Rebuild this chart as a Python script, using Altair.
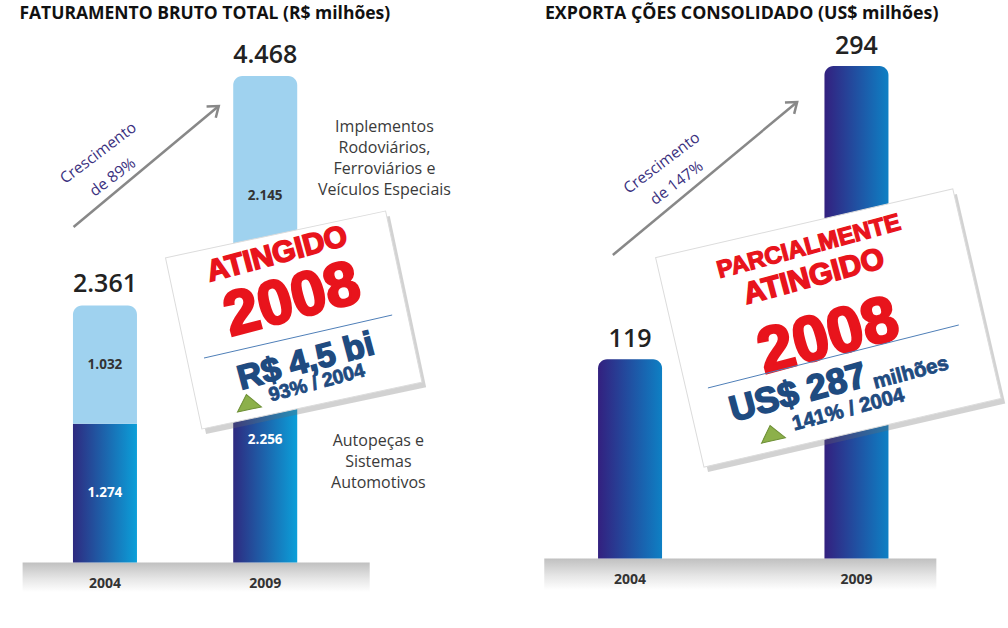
import altair as alt
import pandas as pd

# ---------------- data ----------------
years = [2004, 2009]
autopecas = [1274, 2256]          # R$ milhões (Autopeças e Sistemas Automotivos)
implementos = [1032, 2145]        # R$ milhões (Implementos Rodoviários, Ferroviários e Veículos Especiais)
faturamento_total = [2361, 4468]  # R$ milhões
exportacoes = [119, 294]          # US$ milhões

left_df = pd.DataFrame({"year": years, "lower": autopecas, "upper": implementos, "total": faturamento_total})
right_df = pd.DataFrame({"year": years, "value": exportacoes})

# ---------------- scales ----------------
LXS = alt.Scale(domain=[2000.881, 2016.294], nice=False, zero=False)
LYS = alt.Scale(domain=[-601.5, 5166], nice=False, zero=False)
RXS = alt.Scale(domain=[2001.327, 2012.236], nice=False, zero=False)
RYS = alt.Scale(domain=[-41.5, 333.4], nice=False, zero=False)

SANS = "Open Sans"
HEAVY = "Liberation Sans"
RED = "#e8141c"
BLUE = "#1f4b80"
PURPLE = "#3b3180"
BAR_GRAD = {"gradient": "linear", "x1": 0, "x2": 1, "y1": 0, "y2": 0,
            "stops": [{"offset": 0, "color": "#2e2a80"}, {"offset": 1, "color": "#0b9fd9"}]}
BAR_GRAD_R = {"gradient": "linear", "x1": 0, "x2": 1, "y1": 0, "y2": 0,
              "stops": [{"offset": 0, "color": "#33207f"}, {"offset": 1, "color": "#0e80c4"}]}
BAND_GRAD = {"gradient": "linear", "x1": 0, "x2": 0, "y1": 0, "y2": 1,
             "stops": [{"offset": 0, "color": "#c0c0c0"}, {"offset": 0.55, "color": "#e6e6e6"},
                       {"offset": 1, "color": "#ffffff"}]}
TRI = "M-1,0.62L1,0.62L0,-0.62Z"
CHEVRON = "M-1,-0.75L0,0L-1,0.75"
TA_L = 345   # text angle inside left card
TA_R = 345   # text angle inside right card


def one(**cols):
    return alt.Chart(pd.DataFrame({k: [v] for k, v in cols.items()}))


def xy(xs, ys):
    return dict(x=alt.X("x:Q", scale=xs, axis=None), y=alt.Y("y:Q", scale=ys, axis=None))


def text(xs, ys, x, y, t, **mk):
    mk.setdefault("baseline", "middle")
    return one(x=x, y=y, t=t).mark_text(**mk).encode(text="t:N", **xy(xs, ys))


def heavy(xs, ys, x, y, t, size, color, angle, sw):
    return text(xs, ys, x, y, t, angle=angle, font=HEAVY, fontSize=size, fontWeight="bold",
                color=color, stroke=color, strokeWidth=sw)


def rule(xs, ys, x, y, x2, y2, **mk):
    return one(x=x, y=y, x2=x2, y2=y2).mark_rule(**mk).encode(x2="x2:Q", y2="y2:Q", **xy(xs, ys))


def rect(xs, ys, x, y, x2, y2, **mk):
    return one(x=x, y=y, x2=x2, y2=y2).mark_rect(**mk).encode(x2="x2:Q", y2="y2:Q", **xy(xs, ys))


def point(xs, ys, x, y, **mk):
    mk.setdefault("opacity", 1)
    return one(x=x, y=y).mark_point(**mk).encode(**xy(xs, ys))


def box(xs, ys, x, y, sx, sy, ratio, width, angle):
    shape = f"M-1,-{ratio}L1,-{ratio}L1,{ratio}L-1,{ratio}Z"
    return [
        point(xs, ys, sx, sy, shape=shape, size=width * width, angle=angle, filled=True,
              fill="#6a6a6a", opacity=0.3, strokeWidth=0),
        point(xs, ys, x, y, shape=shape, size=width * width, angle=angle, filled=True,
              fill="white", stroke="#dcdcdc", strokeWidth=1),
    ]


# ---------------- left panel ----------------
LX = alt.X("year:Q", scale=LXS, axis=None)
lbase = alt.Chart(left_df).transform_calculate(
    zero="0",
    mid_low="datum.lower / 2",
    mid_up="(datum.lower + datum.total) / 2",
    lab_total="replace(format(datum.total, ','), ',', '.')",
    lab_low="replace(format(datum.lower, ','), ',', '.')",
    lab_up="replace(format(datum.upper, ','), ',', '.')",
)

left_layers = [
    rect(LXS, LYS, 2001.43, 0, 2012.26, -271, color=BAND_GRAD),
    lbase.mark_bar(size=64, color=BAR_GRAD).encode(
        x=LX, y=alt.Y("lower:Q", scale=LYS, axis=None), y2="zero:Q"),
    lbase.mark_bar(size=64, color="#9fd2ef", cornerRadiusTopLeft=9, cornerRadiusTopRight=9).encode(
        x=LX, y=alt.Y("total:Q", scale=LYS, axis=None), y2="lower:Q"),
    lbase.mark_text(font=SANS, fontSize=13.5, fontWeight="bold", color="white").encode(
        x=LX, y=alt.Y("mid_low:Q", scale=LYS, axis=None), text="lab_low:N"),
    lbase.mark_text(font=SANS, fontSize=13.5, fontWeight="bold", color="#333333").encode(
        x=LX, y=alt.Y("mid_up:Q", scale=LYS, axis=None), text="lab_up:N"),
    lbase.mark_text(font=SANS, fontSize=25, fontWeight=600, color="#222222", dy=-21).encode(
        x=LX, y=alt.Y("total:Q", scale=LYS, axis=None), text="lab_total:N"),
    lbase.mark_text(font=SANS, fontSize=14, fontWeight="bold", color="#333333", dy=21).encode(
        x=LX, y=alt.Y("zero:Q", scale=LYS, axis=None), text=alt.Text("year:Q", format="d")),
    text(LXS, LYS, 2001.33, 5037, "FATURAMENTO BRUTO TOTAL (R$ milhões)", align="left",
         font=SANS, fontSize=17.5, fontWeight="bold", color="#111111"),
    text(LXS, LYS, 2012.72, 4000, "Implementos\nRodoviários,\nFerroviários e\nVeículos Especiais",
         lineBreak="\n", lineHeight=21, font=SANS, fontSize=16, color="#3a3a3a"),
    text(LXS, LYS, 2012.53, 1116, "Autopeças e\nSistemas\nAutomotivos",
         lineBreak="\n", lineHeight=21, font=SANS, fontSize=16, color="#3a3a3a"),
    rule(LXS, LYS, 2003.02, 3081, 2007.55, 4193, color="#888888", strokeWidth=2.5),
    point(LXS, LYS, 2007.55, 4193, shape=CHEVRON, size=380, angle=321, color="#888888", strokeWidth=2.5),
    text(LXS, LYS, 2003.79, 3761, "Crescimento", angle=323, font=SANS, fontSize=15.5, color=PURPLE),
    text(LXS, LYS, 2004.24, 3540, "de 89%", angle=323, font=SANS, fontSize=15.5, color=PURPLE),
    *box(LXS, LYS, 2009.89, 2227, 2010.02, 2181, 0.778, 225, 348),
    heavy(LXS, LYS, 2009.37, 2829, "ATINGIDO", 30, RED, TA_L, 1.6),
    heavy(LXS, LYS, 2009.84, 2411, "2008", 62, RED, TA_L, 2.6),
    rule(LXS, LYS, 2007.09, 1878, 2012.96, 2273, color="#4f7fb8", strokeWidth=1),
    heavy(LXS, LYS, 2010.27, 1841, "R$ 4,5 bi", 34, BLUE, TA_L, 1.6),
    heavy(LXS, LYS, 2010.61, 1649, "93% / 2004", 19.5, BLUE, TA_L, 0.8),
    point(LXS, LYS, 2008.46, 1474, shape=TRI, size=600, angle=348, filled=True,
          fill="#8cb04a", stroke="#6d8f35", strokeWidth=1),
]
left = alt.layer(*left_layers).properties(width=504, height=628)

# ---------------- right panel ----------------
RX = alt.X("year:Q", scale=RXS, axis=None)
rbase = alt.Chart(right_df).transform_calculate(zero="0")

right_layers = [
    rect(RXS, RYS, 2002.106, 0, 2010.764, -18.8, color=BAND_GRAD),
    rbase.mark_bar(size=64, color=BAR_GRAD_R, cornerRadiusTopLeft=9, cornerRadiusTopRight=9).encode(
        x=RX, y=alt.Y("value:Q", scale=RYS, axis=None), y2="zero:Q"),
    rbase.mark_text(font=SANS, fontSize=25, fontWeight=600, color="#222222", dy=-20).encode(
        x=RX, y=alt.Y("value:Q", scale=RYS, axis=None), text="value:Q"),
    rbase.mark_text(font=SANS, fontSize=14, fontWeight="bold", color="#333333", dy=22).encode(
        x=RX, y=alt.Y("zero:Q", scale=RYS, axis=None), text=alt.Text("year:Q", format="d")),
    text(RXS, RYS, 2002.12, 325.1, "EXPORTA ÇÕES CONSOLIDADO (US$ milhões)", align="left",
         font=SANS, fontSize=17.8, fontWeight="bold", color="#111111"),
    rule(RXS, RYS, 2003.62, 181.2, 2007.69, 272.5, color="#888888", strokeWidth=2.5),
    point(RXS, RYS, 2007.69, 272.5, shape=CHEVRON, size=380, angle=321, color="#888888", strokeWidth=2.5),
    text(RXS, RYS, 2004.70, 236.1, "Crescimento", angle=323, font=SANS, fontSize=15.5, color=PURPLE),
    text(RXS, RYS, 2005.03, 224.2, "de 147%", angle=323, font=SANS, fontSize=15.5, color=PURPLE),
    *box(RXS, RYS, 2008.38, 137.6, 2008.47, 134.6, 0.705, 305, 347),
    heavy(RXS, RYS, 2007.95, 186.0, "PARCIALMENTE", 24, RED, TA_R, 1.3),
    heavy(RXS, RYS, 2008.06, 168.1, "ATINGIDO", 30, RED, TA_R, 1.6),
    heavy(RXS, RYS, 2008.38, 132.2, "2008", 64, RED, TA_R, 2.6),
    rule(RXS, RYS, 2005.72, 101.8, 2011.26, 139.4, color="#4f7fb8", strokeWidth=1),
    heavy(RXS, RYS, 2007.71, 98.8, "US$ 287", 36, BLUE, TA_R, 1.6),
    heavy(RXS, RYS, 2010.20, 110.7, "milhões", 20.5, BLUE, TA_R, 0.8),
    heavy(RXS, RYS, 2008.82, 88.7, "141% / 2004", 20.5, BLUE, TA_R, 0.8),
    point(RXS, RYS, 2007.13, 74.9, shape=TRI, size=600, angle=347, filled=True,
          fill="#8cb04a", stroke="#6d8f35", strokeWidth=1),
]
right = alt.layer(*right_layers).properties(width=504, height=628)

chart = alt.hconcat(left, right, spacing=0).properties(
    padding=0, background="white"
).configure_view(stroke=None)

chart.save("out.html", embed_options={"renderer": "svg", "actions": False})
